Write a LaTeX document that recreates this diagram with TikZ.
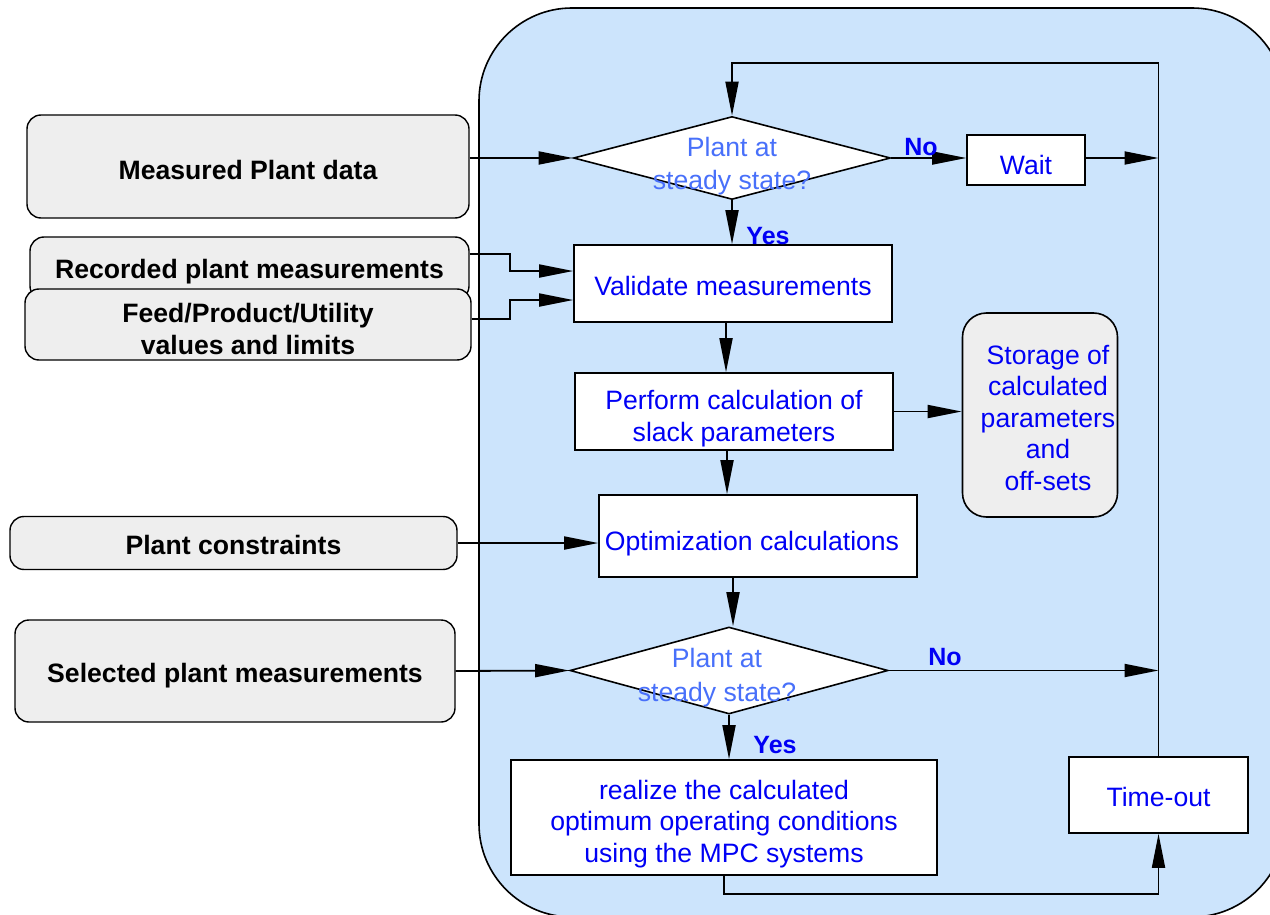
\documentclass[tikz,border=0pt]{standalone}
\usepackage{fontspec}
\setmainfont{Liberation Sans}
\usetikzlibrary{shapes.geometric,arrows.meta,calc}
\definecolor{panel}{RGB}{204,228,252}
\definecolor{inputgray}{RGB}{238,238,238}
\definecolor{boxblue}{RGB}{0,0,245}
\definecolor{askblue}{RGB}{72,112,250}
% zero-width strut that lowers a text block inside its box
\newcommand{\lowerby}[1]{\rule{0pt}{#1pt}}
\begin{document}
\begin{tikzpicture}[x=1pt,y=-1pt,
  every node/.style={font=\fontsize{26.6}{31.5}\selectfont},
  sink/.style={execute at begin node={\lowerby{#1}}},
  input/.style={draw, line width=1.4pt, fill=inputgray, rounded corners=14pt,
    font=\fontsize{26.6}{31.5}\selectfont\bfseries, align=center, inner sep=0pt},
  proc/.style={draw, line width=1.6pt, fill=white, text=boxblue, align=center, inner sep=0pt},
  store/.style={proc, fill=inputgray, rounded corners=24pt},
  ask/.style={diamond, draw, line width=1.6pt, fill=white, inner sep=0pt},
  asktext/.style={text=askblue, align=center, font=\fontsize{26.6}{33.5}\selectfont},
  tag/.style={text=boxblue, font=\fontsize{25}{30}\selectfont\bfseries},
  flow/.style={line width=1.8pt, -{Triangle[length=34pt,width=13pt]}}]

\useasboundingbox (0,0) rectangle (1270,915);
\clip (0,0) rectangle (1270,915);

% control panel
\draw[line width=1.6pt, fill=panel, rounded corners=93pt] (479,8) rectangle (1285,917);

% inputs on the left
\node[input, sink=25.4, minimum width=442pt, minimum height=103pt] (measured) at (248,166.5) {Measured Plant data};
\node[input, sink=25.4, minimum width=439pt, minimum height=63pt] (recorded) at (249.5,268.5) {Recorded plant measurements};
\node[input, minimum width=446pt, minimum height=71pt] (feed) at (248,324.5) {\lowerby{28.4}Feed/Product/Utility\\values and limits};
\node[input, sink=23.4, minimum width=447pt, minimum height=53pt] (constraints) at (233.5,543) {Plant constraints};
\node[input, sink=29.4, minimum width=440pt, minimum height=102pt] (selected) at (235,671) {Selected plant measurements};

% main loop
\node[ask, minimum width=317pt, minimum height=83pt,
  label={[name=ask1text, asktext, yshift=-8pt]center:Plant at\\steady state?}] (ask1) at (732,158) {};
\node[proc, sink=29.4, minimum width=118pt, minimum height=50pt] (wait) at (1026,160) {Wait};
\node[proc, sink=23.4, minimum width=318pt, minimum height=77pt] (validate) at (733,283.5) {Validate measurements};
\node[proc, minimum width=318pt, minimum height=77pt] (perform) at (734,411.5) {\lowerby{33.4}Perform calculation of\\slack parameters};
\node[store, minimum width=155pt, minimum height=204pt] (storage) at (1040,415)
  {\lowerby{24.4}\hspace*{16pt}Storage of\\\hspace*{16pt}calculated\\\hspace*{16pt}parameters\\\hspace*{16pt}and\\\hspace*{16pt}off-sets};
\node[proc, sink=35.4, minimum width=318pt, minimum height=82pt] (opt) at (758,536) {Optimization calculations\hspace*{12pt}};
\node[ask, minimum width=318pt, minimum height=87pt,
  label={[name=ask2text, asktext, yshift=-7pt, xshift=-12pt]center:Plant at\\steady state?}] (ask2) at (729,670.5) {};
\node[proc, minimum width=426pt, minimum height=115pt] (realize) at (724,817.5) {\lowerby{32.4}realize the calculated\\optimum operating conditions\\using the MPC systems};
\node[proc, sink=23.4, minimum width=179pt, minimum height=76pt] (timeout) at (1158.5,795) {Time-out};

\coordinate (merge1) at (timeout.north |- ask1.east);
\coordinate (merge2) at (timeout.north |- ask2.east);

% connectors
\draw[flow] (measured.east |- ask1.west) -- (ask1.west);
\draw[flow] (ask1.east) -- (ask1.east -| wait.west);
\draw[flow] (wait.east |- merge1) -- (merge1);
\draw[flow] (timeout.north) -- (timeout.north |- 0,63) -| (ask1.north);
\draw[flow] (ask1.south) -- (ask1.south |- validate.north);
\draw[flow] (recorded.east |- 0,254) -- (510,254) -- (510,271) -- (validate.west |- 0,271);
\draw[flow] (feed.east |- 0,319) -- (510,319) -- (510,300) -- (validate.west |- 0,300);
\draw[flow] ([xshift=-7pt]validate.south) -- ([xshift=-7pt]validate.south |- perform.north);
\draw[flow] (perform.east) -- (perform.east -| storage.west);
\draw[flow] ([xshift=-7pt]perform.south) -- ([xshift=-7pt]perform.south |- opt.north);
\draw[flow] (constraints.east) -- (constraints.east -| opt.west);
\draw[flow] ([xshift=-25pt]opt.south) -- ([xshift=-25pt]opt.south |- ask2.north);
\draw[flow] (selected.east) -- (ask2.west);
\draw[flow] (ask2.east) -- (merge2);
\draw[flow] (ask2.south) -- (ask2.south |- realize.north);
\draw[flow] (realize.south) -- ++(0,18) -| (timeout.south);

% branch labels
\node[tag] (no1) at (921,147) {No};
\node[tag] (yes1) at (768,236) {Yes};
\node[tag] (no2) at (945,657) {No};
\node[tag] (yes2) at (775,745) {Yes};
\end{tikzpicture}
\end{document}
